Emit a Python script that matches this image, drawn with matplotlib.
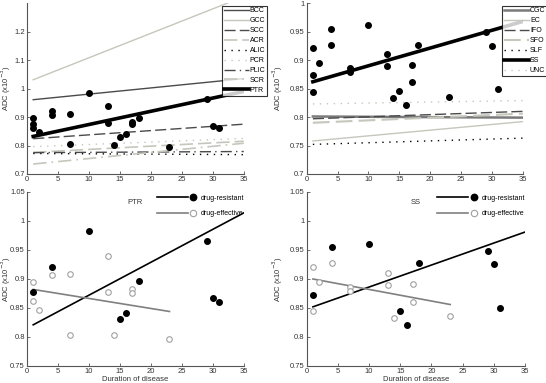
import numpy as np
import matplotlib
matplotlib.use('Agg')
import matplotlib.pyplot as plt
from matplotlib.lines import Line2D
from matplotlib.legend_handler import HandlerBase

# ---- data ----
# PTR, patients split by drug response
ptr_res_x = [1, 4, 10, 15, 16, 18, 29, 30, 31]
ptr_res_y = [0.877, 0.921, 0.983, 0.831, 0.842, 0.896, 0.965, 0.868, 0.861]
ptr_eff_x = [1, 1, 2, 4, 7, 7, 13, 13, 14, 17, 17, 23]
ptr_eff_y = [0.895, 0.862, 0.846, 0.907, 0.909, 0.804, 0.939, 0.878, 0.803, 0.882, 0.875, 0.796]

# SS, patients split by drug response
ss_res_x = [1, 4, 10, 15, 16, 18, 29, 30, 31]
ss_res_y = [0.873, 0.955, 0.961, 0.845, 0.821, 0.927, 0.949, 0.925, 0.850]
ss_eff_x = [1, 1, 2, 4, 7, 7, 13, 13, 14, 17, 17, 23]
ss_eff_y = [0.921, 0.844, 0.895, 0.927, 0.886, 0.879, 0.911, 0.890, 0.833, 0.892, 0.861, 0.836]

# fitted lines (value at start, value at end)
line_x = [1, 35]
tl_names = ['BCC', 'GCC', 'SCC', 'ACR', 'ALIC', 'PCR', 'PLIC', 'SCR', 'PTR']
tl_vals = [(0.961, 1.035), (1.031, 1.323), (0.824, 0.875), (0.776, 0.815),
           (0.772, 0.768), (0.796, 0.825), (0.775, 0.779), (0.735, 0.808),
           (0.832, 0.990)]
tr_names = ['CGC', 'EC', 'IFO', 'SFO', 'SLF', 'SS', 'UNC']
tr_vals = [(0.801, 0.799), (0.758, 0.792), (0.797, 0.810), (0.790, 0.806),
           (0.752, 0.763), (0.862, 0.968), (0.823, 0.829)]

res_line_x = [1, 35]
eff_line_x = [1, 23]
ptr_res_line = [0.821, 1.014]
ptr_eff_line = [0.882, 0.844]
ss_res_line = [0.852, 0.981]
ss_eff_line = [0.900, 0.856]

# ---- styles ----
DARK = '#4a4a4a'
MID = '#7a7a7a'
LIGHT = '#c6c6bc'
dotted = (0, (1, 4))
dashed = (0, (8, 3))
dashdot = (0, (8, 3, 1, 3))
tl_style = {
    'BCC': dict(color=DARK, lw=1.0, ls='-'),
    'GCC': dict(color=LIGHT, lw=1.0, ls='-'),
    'SCC': dict(color=DARK, lw=1.0, ls=dashed),
    'ACR': dict(color=LIGHT, lw=1.2, ls=dashed),
    'ALIC': dict(color='k', lw=1.0, ls=dotted),
    'PCR': dict(color=LIGHT, lw=1.0, ls=dotted),
    'PLIC': dict(color=DARK, lw=1.0, ls=dashdot),
    'SCR': dict(color=LIGHT, lw=1.2, ls=dashdot),
    'PTR': dict(color='k', lw=2.6, ls='-'),
}
tr_style = {
    'CGC': dict(color=MID, lw=1.8, ls='-'),
    'EC': dict(color=LIGHT, lw=1.0, ls='-'),
    'IFO': dict(color=DARK, lw=1.0, ls=dashed),
    'SFO': dict(color=LIGHT, lw=1.5, ls=dashed),
    'SLF': dict(color='k', lw=1.0, ls=dotted),
    'SS': dict(color='k', lw=2.6, ls='-'),
    'UNC': dict(color=LIGHT, lw=1.0, ls=dotted),
}

plt.rcParams['font.family'] = ['Liberation Sans', 'DejaVu Sans']
FS = 5.5


class LineThenMarker(HandlerBase):
    # line on the left part of the handle, marker just after its end
    def create_artists(self, legend, orig_handle, xdescent, ydescent,
                       width, height, fontsize, trans):
        x0 = -xdescent
        y = height / 2 - ydescent
        ln = Line2D([x0, x0 + width * 0.84], [y, y], color=orig_handle.get_color(),
                    lw=orig_handle.get_linewidth())
        mk = Line2D([x0 + width], [y], ls='none', marker='o',
                    ms=orig_handle.get_markersize(),
                    mfc=orig_handle.get_markerfacecolor(),
                    mec=orig_handle.get_markeredgecolor(),
                    mew=orig_handle.get_markeredgewidth())
        ln.set_transform(trans)
        mk.set_transform(trans)
        return [ln, mk]


def style_axes(ax, ylim, yticks, label_x):
    ax.set_xlim(0, 35)
    ax.set_ylim(*ylim)
    ax.set_xticks(range(0, 36, 5))
    ax.set_yticks(yticks)
    ax.set_yticklabels(['%g' % t for t in yticks])
    for s in ['top', 'right']:
        ax.spines[s].set_visible(False)
    for s in ['left', 'bottom']:
        ax.spines[s].set_color('#555555')
        ax.spines[s].set_linewidth(0.8)
    ax.tick_params(direction='in', length=2, width=0.6, labelsize=FS,
                   colors='#555555', labelcolor='#333333', pad=1.5)
    ax.set_ylabel('ADC (x10$^{-3}$)', fontsize=FS, color='#333333')
    ax.yaxis.set_label_coords(label_x, 0.5)


fig = plt.figure(figsize=(5.46, 3.83), dpi=100)
ax1 = fig.add_axes([0.0495, 0.5457, 0.397, 0.446])
ax2 = fig.add_axes([0.5617, 0.5457, 0.396, 0.446])
ax3 = fig.add_axes([0.0495, 0.0444, 0.397, 0.4543])
ax4 = fig.add_axes([0.5617, 0.0444, 0.400, 0.4543])

# top left: all tracts, PTR points
for name, v in zip(tl_names, tl_vals):
    ax1.plot(line_x, v, label=name, **tl_style[name])
ax1.plot(ptr_res_x + ptr_eff_x, ptr_res_y + ptr_eff_y, 'o', color='k', ms=4.0, zorder=5)
style_axes(ax1, (0.7, 1.3), [0.7, 0.8, 0.9, 1.0, 1.1, 1.2], -0.065)
leg = ax1.legend(loc='upper left', bbox_to_anchor=(0.899, 0.985), borderaxespad=0,
                 fontsize=5, frameon=True, fancybox=False, edgecolor='k',
                 handlelength=3.6, handletextpad=0.15, labelspacing=0.42,
                 borderpad=0.25)
leg.get_frame().set_linewidth(0.8)
leg.set_zorder(10)

# top right: all tracts, SS points
for name, v in zip(tr_names, tr_vals):
    ax2.plot(line_x, v, label=name, **tr_style[name])
ax2.plot(ss_res_x + ss_eff_x, ss_res_y + ss_eff_y, 'o', color='k', ms=4.0, zorder=5)
style_axes(ax2, (0.7, 1.0), [0.7, 0.75, 0.8, 0.85, 0.9, 0.95, 1.0], -0.098)
leg = ax2.legend(loc='upper left', bbox_to_anchor=(0.904, 0.985), borderaxespad=0,
                 fontsize=5, frameon=True, fancybox=False, edgecolor='k',
                 handlelength=3.6, handletextpad=0.15, labelspacing=0.42,
                 borderpad=0.25)
leg.get_frame().set_linewidth(0.8)
leg.set_zorder(10)


def bottom_panel(ax, rx, ry, ex, ey, rline, eline, title, label_x, title_x):
    ax.plot(res_line_x, rline, color='k', lw=1.2)
    ax.plot(eff_line_x, eline, color='#808080', lw=1.2)
    ax.plot(rx, ry, 'o', color='k', ms=4.0, zorder=5)
    ax.plot(ex, ey, 'o', mfc='white', mec='#a0a0a0', mew=0.8, ms=4.0, zorder=5)
    style_axes(ax, (0.75, 1.05), [0.75, 0.8, 0.85, 0.9, 0.95, 1.0, 1.05], label_x)
    ax.set_xlabel('Duration of disease', fontsize=FS, color='#333333', labelpad=1)
    h1 = Line2D([], [], color='k', lw=1.2, marker='o', ms=4.6, mfc='k', mec='k')
    h2 = Line2D([], [], color='#808080', lw=1.2, marker='o', ms=4.6,
                mfc='white', mec='#a0a0a0', mew=0.8)
    ax.legend([h1, h2], ['drug-resistant', 'drug-effective'],
              handler_map={Line2D: LineThenMarker()},
              loc='upper left', bbox_to_anchor=(0.585, 1.0), borderaxespad=0,
              frameon=False, fontsize=5, handlelength=5.3, handletextpad=1.1,
              labelspacing=1.2)
    ax.text(title_x, 0.94, title, transform=ax.transAxes, fontsize=FS,
            color='#333333', va='center')


bottom_panel(ax3, ptr_res_x, ptr_res_y, ptr_eff_x, ptr_eff_y, ptr_res_line, ptr_eff_line,
             'PTR', -0.065, 0.465)
bottom_panel(ax4, ss_res_x, ss_res_y, ss_eff_x, ss_eff_y, ss_res_line, ss_eff_line,
             'SS', -0.098, 0.474)

fig.savefig('out.png', dpi=100)
